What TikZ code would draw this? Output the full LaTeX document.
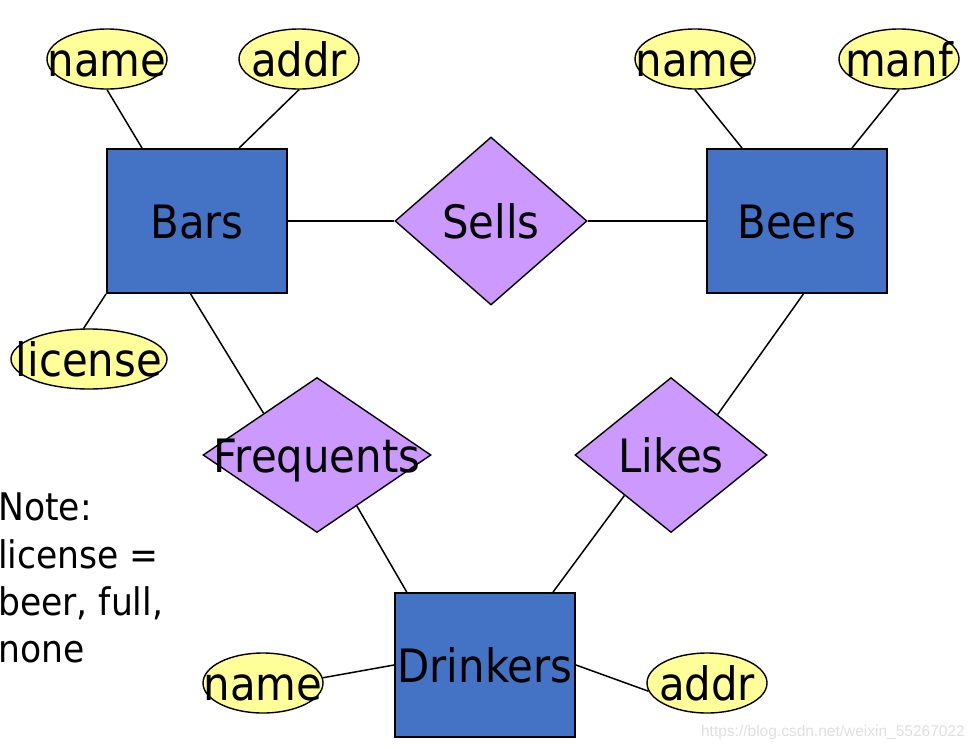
\documentclass[tikz,border=0pt]{standalone}
\usepackage{fontspec}
\setmainfont{DejaVu Sans}[FakeStretch=0.91]
\newfontfamily\markfont{Liberation Sans}
\usetikzlibrary{shapes,positioning}

\definecolor{entblue}{HTML}{4472C4}
\definecolor{relpurple}{HTML}{CC99FF}
\definecolor{attryellow}{HTML}{FFFF99}
\newcommand\erfont{\fontsize{46}{55}\selectfont}
\newcommand\notefont{\fontsize{38}{47.3}\selectfont}

\tikzset{
  entity/.style={draw, line width=2pt, fill=entblue, minimum width=180pt, minimum height=144pt,
    inner sep=0pt, font=\erfont, text height=35pt, text depth=0pt},
  attr/.style={ellipse, draw, line width=1.4pt, fill=attryellow, minimum width=120pt,
    minimum height=60pt, inner sep=0pt},
  rel/.style={diamond, draw, line width=1.4pt, fill=relpurple, inner sep=0pt},
  inlabel/.style={font=\erfont, text height=35pt, text depth=0pt, inner sep=0pt},
  link/.style={line width=1.5pt}
}

\begin{document}
\begin{tikzpicture}[x=1pt,y=-1pt]
\useasboundingbox (0,0) rectangle (974,748);
% Entity sets
\node[entity] (bars) at (197,221) {Bars};
\node[entity] (beers) at (797,221) {Beers};
\node[entity] (drinkers) at (485,665) {Drinkers};
% Relationships
\node[rel, minimum width=192pt, minimum height=168pt, label={[inlabel]center:Sells}] (sells) at (491,221) {};
\node[rel, minimum width=228pt, minimum height=155pt, label={[inlabel]center:Frequents}] (frequents) at (317,455) {};
\node[rel, minimum width=192pt, minimum height=155pt, label={[inlabel]center:Likes}] (likes) at (671,455) {};
% Attributes
\node[attr, label={[inlabel]center:name}] (barname) at (107,59) {};
\node[attr, label={[inlabel]center:addr}] (baraddr) at (299,59) {};
\node[attr, minimum width=156pt, label={[inlabel]center:license}] (license) at (89,359) {};
\node[attr, label={[inlabel]center:name}] (beername) at (695,59) {};
\node[attr, label={[inlabel]center:manf}] (manf) at (899,59) {};
\node[attr, label={[inlabel]center:name}] (drinkername) at (263,683) {};
\node[attr, label={[inlabel]center:addr}] (drinkeraddr) at (707,683) {};
% Connectors
\draw[link] (barname.south) -- (bars.127);
\draw[link] (baraddr.south) -- (bars.60);
\draw[link] (license.100) -- (bars.south west);
\draw[link] (bars.east) -- (sells.west);
\draw[link] (sells.east) -- (beers.west);
\draw[link] (beername.south) -- (beers.127);
\draw[link] (manf.south) -- (beers.53);
\draw[link] (bars.265) -- (frequents.142);
\draw[link] (frequents.308) -- (drinkers.137);
\draw[link] (beers.275) -- (likes.41);
\draw[link] (likes.221) -- (drinkers.47);
\draw[link] (drinkername.5) -- (drinkers.west);
\draw[link] (drinkers.east) -- (drinkeraddr.188);
% Note
\node[font=\notefont, align=left, anchor=north west, inner sep=0pt] (note) at (-2,493)
  {Note:\\license =\\beer, full,\\none};
% Watermark
\node[font=\markfont\fontsize{15.5}{17}\selectfont, text=gray!25, anchor=base east, inner sep=0pt]
  (watermark) at (965,736) {https://blog.csdn.net/weixin\_55267022};
\end{tikzpicture}
\end{document}
